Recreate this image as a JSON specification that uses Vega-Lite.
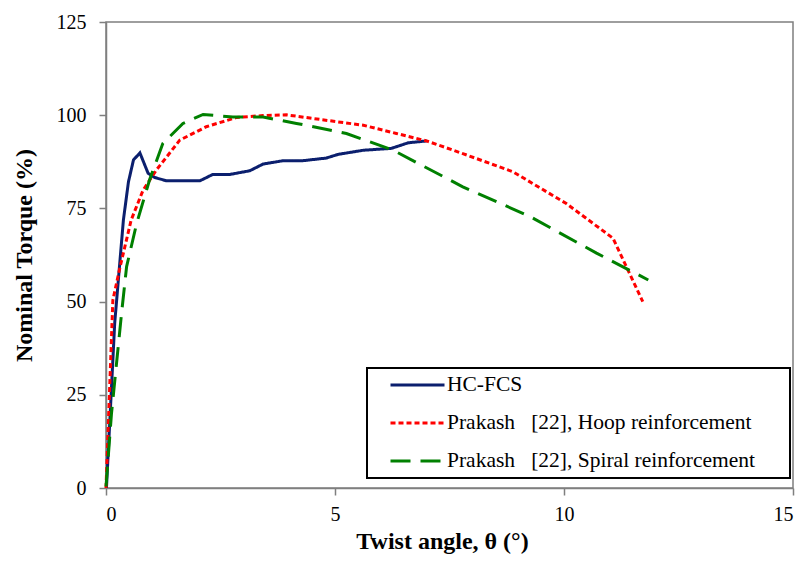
{
  "$schema": "https://vega.github.io/schema/vega-lite/v6.json",
  "width": 687,
  "height": 466,
  "autosize": {"type": "none"},
  "padding": {"left": 106, "top": 22, "right": 11, "bottom": 73},
  "background": "white",
  "config": {
    "font": "Liberation Serif",
    "view": {"stroke": "#7f7f7f", "strokeWidth": 1.5},
    "axis": {
      "grid": false,
      "domainColor": "#7f7f7f",
      "domainWidth": 1.5,
      "tickColor": "#7f7f7f",
      "tickWidth": 1.5,
      "tickSize": 7,
      "labelFont": "Liberation Serif",
      "labelFontSize": 20,
      "labelColor": "black",
      "titleFont": "Liberation Serif",
      "titleFontSize": 24,
      "titleFontWeight": "bold",
      "titleColor": "black"
    },
    "legend": {
      "orient": "none",
      "legendX": 261,
      "legendY": 346,
      "title": null,
      "symbolType": "stroke",
      "symbolSize": 2916,
      "symbolStrokeWidth": 3,
      "symbolOffset": 20,
      "clipHeight": 30,
      "labelFont": "Liberation Serif",
      "labelFontSize": 21.5,
      "labelColor": "black",
      "labelLimit": 600,
      "labelOffset": 1,
      "strokeColor": "black",
      "strokeWidth": 2,
      "fillColor": "white",
      "padding": 2,
      "rowPadding": 8
    }
  },
  "data": {
    "values": [
      {"series": "HC-FCS", "x": 0.01, "y": 0},
      {"series": "HC-FCS", "x": 0.19, "y": 44.2},
      {"series": "HC-FCS", "x": 0.38, "y": 71.9},
      {"series": "HC-FCS", "x": 0.49, "y": 82.1},
      {"series": "HC-FCS", "x": 0.6, "y": 88},
      {"series": "HC-FCS", "x": 0.74, "y": 89.9},
      {"series": "HC-FCS", "x": 0.92, "y": 84.4},
      {"series": "HC-FCS", "x": 1.06, "y": 83.3},
      {"series": "HC-FCS", "x": 1.32, "y": 82.4},
      {"series": "HC-FCS", "x": 2.05, "y": 82.4},
      {"series": "HC-FCS", "x": 2.33, "y": 84.1},
      {"series": "HC-FCS", "x": 2.7, "y": 84.1},
      {"series": "HC-FCS", "x": 3.14, "y": 85.1},
      {"series": "HC-FCS", "x": 3.43, "y": 86.9},
      {"series": "HC-FCS", "x": 3.87, "y": 87.8},
      {"series": "HC-FCS", "x": 4.3, "y": 87.8},
      {"series": "HC-FCS", "x": 4.81, "y": 88.5},
      {"series": "HC-FCS", "x": 5.07, "y": 89.5},
      {"series": "HC-FCS", "x": 5.62, "y": 90.6},
      {"series": "HC-FCS", "x": 6.23, "y": 91.1},
      {"series": "HC-FCS", "x": 6.6, "y": 92.6},
      {"series": "HC-FCS", "x": 7.0, "y": 93.1},
      {"series": "Prakash\u00a0\u00a0 [22], Hoop reinforcement", "x": 0, "y": 0},
      {"series": "Prakash\u00a0\u00a0 [22], Hoop reinforcement", "x": 0.15, "y": 50.4},
      {"series": "Prakash\u00a0\u00a0 [22], Hoop reinforcement", "x": 0.3, "y": 58.9},
      {"series": "Prakash\u00a0\u00a0 [22], Hoop reinforcement", "x": 0.55, "y": 71.9},
      {"series": "Prakash\u00a0\u00a0 [22], Hoop reinforcement", "x": 0.81, "y": 79.9},
      {"series": "Prakash\u00a0\u00a0 [22], Hoop reinforcement", "x": 1.1, "y": 85.3},
      {"series": "Prakash\u00a0\u00a0 [22], Hoop reinforcement", "x": 1.61, "y": 93.3},
      {"series": "Prakash\u00a0\u00a0 [22], Hoop reinforcement", "x": 2.19, "y": 96.9},
      {"series": "Prakash\u00a0\u00a0 [22], Hoop reinforcement", "x": 2.85, "y": 99.4},
      {"series": "Prakash\u00a0\u00a0 [22], Hoop reinforcement", "x": 3.43, "y": 99.9},
      {"series": "Prakash\u00a0\u00a0 [22], Hoop reinforcement", "x": 3.94, "y": 100.1},
      {"series": "Prakash\u00a0\u00a0 [22], Hoop reinforcement", "x": 4.89, "y": 98.5},
      {"series": "Prakash\u00a0\u00a0 [22], Hoop reinforcement", "x": 5.62, "y": 97.3},
      {"series": "Prakash\u00a0\u00a0 [22], Hoop reinforcement", "x": 6.34, "y": 95.1},
      {"series": "Prakash\u00a0\u00a0 [22], Hoop reinforcement", "x": 7.0, "y": 93.1},
      {"series": "Prakash\u00a0\u00a0 [22], Hoop reinforcement", "x": 7.79, "y": 89.7},
      {"series": "Prakash\u00a0\u00a0 [22], Hoop reinforcement", "x": 8.89, "y": 84.8},
      {"series": "Prakash\u00a0\u00a0 [22], Hoop reinforcement", "x": 10.05, "y": 76.3},
      {"series": "Prakash\u00a0\u00a0 [22], Hoop reinforcement", "x": 11.07, "y": 67},
      {"series": "Prakash\u00a0\u00a0 [22], Hoop reinforcement", "x": 11.72, "y": 50},
      {"series": "Prakash\u00a0\u00a0 [22], Spiral reinforcement", "x": 0, "y": 0.4},
      {"series": "Prakash\u00a0\u00a0 [22], Spiral reinforcement", "x": 0.12, "y": 20},
      {"series": "Prakash\u00a0\u00a0 [22], Spiral reinforcement", "x": 0.34, "y": 46.9},
      {"series": "Prakash\u00a0\u00a0 [22], Spiral reinforcement", "x": 0.45, "y": 59.4},
      {"series": "Prakash\u00a0\u00a0 [22], Spiral reinforcement", "x": 0.67, "y": 71},
      {"series": "Prakash\u00a0\u00a0 [22], Spiral reinforcement", "x": 0.95, "y": 82.6},
      {"series": "Prakash\u00a0\u00a0 [22], Spiral reinforcement", "x": 1.24, "y": 92.4},
      {"series": "Prakash\u00a0\u00a0 [22], Spiral reinforcement", "x": 1.68, "y": 97.8},
      {"series": "Prakash\u00a0\u00a0 [22], Spiral reinforcement", "x": 2.12, "y": 100.2},
      {"series": "Prakash\u00a0\u00a0 [22], Spiral reinforcement", "x": 2.77, "y": 99.5},
      {"series": "Prakash\u00a0\u00a0 [22], Spiral reinforcement", "x": 3.43, "y": 99.5},
      {"series": "Prakash\u00a0\u00a0 [22], Spiral reinforcement", "x": 4.16, "y": 97.8},
      {"series": "Prakash\u00a0\u00a0 [22], Spiral reinforcement", "x": 5.25, "y": 95.1},
      {"series": "Prakash\u00a0\u00a0 [22], Spiral reinforcement", "x": 6.27, "y": 90.6},
      {"series": "Prakash\u00a0\u00a0 [22], Spiral reinforcement", "x": 7.79, "y": 80.8},
      {"series": "Prakash\u00a0\u00a0 [22], Spiral reinforcement", "x": 9.26, "y": 72.8},
      {"series": "Prakash\u00a0\u00a0 [22], Spiral reinforcement", "x": 10.71, "y": 63},
      {"series": "Prakash\u00a0\u00a0 [22], Spiral reinforcement", "x": 11.84, "y": 55.8}
    ]
  },
  "mark": {"type": "line", "strokeWidth": 3},
  "encoding": {
    "x": {
      "field": "x",
      "type": "quantitative",
      "scale": {"domain": [0, 15], "nice": false},
      "axis": {"values": [0, 5, 10, 15], "title": "Twist angle, θ (°)", "labelPadding": 9, "titlePadding": 5, "titleX": 336}
    },
    "y": {
      "field": "y",
      "type": "quantitative",
      "scale": {"domain": [0, 125], "nice": false},
      "axis": {"values": [0, 25, 50, 75, 100, 125], "title": "Nominal Torque (%)", "labelPadding": 13, "titlePadding": 20}
    },
    "color": {
      "field": "series",
      "type": "nominal",
      "scale": {
        "domain": ["HC-FCS", "Prakash\u00a0\u00a0 [22], Hoop reinforcement", "Prakash\u00a0\u00a0 [22], Spiral reinforcement"],
        "range": ["#0b1f6e", "#ff0000", "#008000"]
      },
      "legend": {"labelExpr": "datum.label + '\u2800\u2800'"}
    },
    "strokeDash": {
      "field": "series",
      "type": "nominal",
      "scale": {
        "domain": ["HC-FCS", "Prakash\u00a0\u00a0 [22], Hoop reinforcement", "Prakash\u00a0\u00a0 [22], Spiral reinforcement"],
        "range": [[1, 0], [5, 3], [20, 10]]
      },
      "legend": {"labelExpr": "datum.label + '\u2800\u2800'"}
    }
  }
}
